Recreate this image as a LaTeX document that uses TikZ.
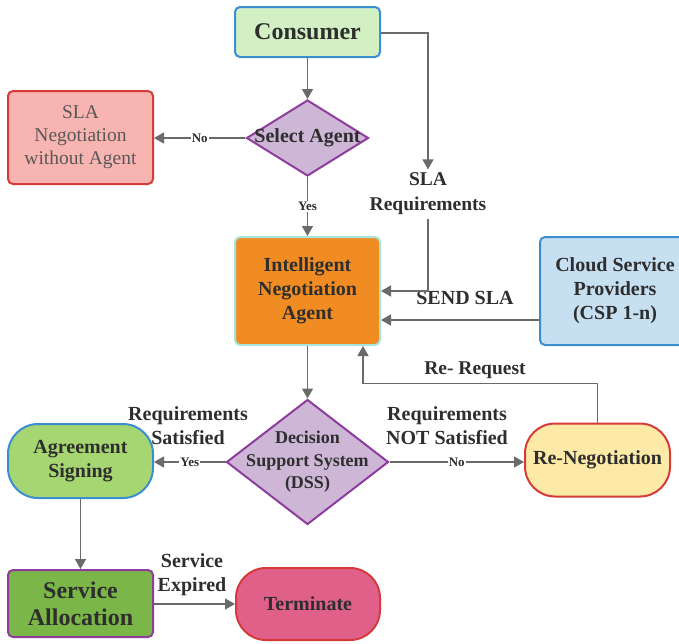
\documentclass[tikz,border=0pt]{standalone}
\usepackage{fontspec}
\setmainfont{Liberation Serif}
\usetikzlibrary{shapes.geometric,arrows.meta,calc}
\definecolor{linec}{HTML}{6A6A6A}
\definecolor{txt}{HTML}{2E2E2E}
\definecolor{bluebd}{HTML}{3A8FD0}
\definecolor{redbd}{HTML}{D63A3A}
\definecolor{purbd}{HTML}{8E3C9E}
\definecolor{purfill}{HTML}{CDB6D6}
\definecolor{consfill}{HTML}{D2F0C4}
\definecolor{negfill}{HTML}{F8B4B0}
\definecolor{inafill}{HTML}{F08C22}
\definecolor{inabd}{HTML}{A8E4DC}
\definecolor{cspfill}{HTML}{C6E0F2}
\definecolor{agrfill}{HTML}{A6D672}
\definecolor{renfill}{HTML}{FDEAA6}
\definecolor{safill}{HTML}{7AB648}
\definecolor{termfill}{HTML}{E0608A}
\tikzset{
  box/.style={draw, line width=2pt, rounded corners=5pt, align=center, text=txt, font=\bfseries, inner sep=2pt},
  stad/.style={draw, line width=2pt, rounded corners=30pt, align=center, text=txt, font=\bfseries\fontsize{20}{24}\selectfont},
  dia/.style={draw=purbd, fill=purfill, line width=2pt, diamond, inner sep=0pt},
  dtext/.style={align=center, text=txt, inner sep=0pt},
  arr/.style={draw=linec, line width=1.5pt, -{Triangle[width=11pt,length=10pt]}},
  lbl/.style={text=txt, font=\bfseries\fontsize{20}{24}\selectfont, align=center},
  small/.style={text=txt, font=\bfseries\fontsize{13}{14}\selectfont, fill=white, inner sep=1pt}
}
\begin{document}
\begin{tikzpicture}[x=1pt,y=-1pt]
\useasboundingbox (0,0) rectangle (679,643);
% nodes
\node[box, draw=bluebd, fill=consfill, minimum width=145pt, minimum height=50pt, font=\bfseries\fontsize{24}{26}\selectfont] (cons) at (307.5,32) {Consumer};
\node[dia, minimum width=122pt, minimum height=76pt,
  label={[dtext, font=\bfseries\fontsize{20}{21}\selectfont]center:Select Agent}] (sel) at (307.5,138) {};
\node[box, draw=redbd, fill=negfill, minimum width=145pt, minimum height=93pt, font=\fontsize{19.5}{23}\selectfont, text=txt!80] (nowo) at (80.5,137.5) {SLA\\Negotiation\\without Agent};
\node[lbl, font=\bfseries\fontsize{19.5}{25}\selectfont] (slareq) at (428,194) {SLA\\Requirements};
\node[box, draw=inabd, fill=inafill, minimum width=145pt, minimum height=108pt, font=\bfseries\fontsize{20}{24}\selectfont] (ina) at (307.5,291) {Intelligent\\Negotiation\\Agent};
\node[box, draw=bluebd, fill=cspfill, minimum width=150pt, minimum height=108pt, font=\bfseries\fontsize{20}{24}\selectfont] (csp) at (615,291) {Cloud Service\\Providers\\(CSP 1-n)};
\node[dia, minimum width=162pt, minimum height=125pt,
  label={[dtext, font=\bfseries\fontsize{18}{22.5}\selectfont]center:{Decision\\Support System\\(DSS)}}] (dss) at (307.5,462) {};
\node[stad, draw=bluebd, fill=agrfill, minimum width=145pt, minimum height=74pt] (agr) at (80.5,461) {Agreement\\Signing};
\node[stad, draw=redbd, fill=renfill, minimum width=145pt, minimum height=73pt] (reneg) at (597.5,460) {Re-Negotiation};
\node[box, draw=purbd, fill=safill, minimum width=145pt, minimum height=67pt, font=\bfseries\fontsize{24}{27}\selectfont] (sa) at (80.5,603.5) {Service\\Allocation};
\node[stad, draw=redbd, fill=termfill, minimum width=144pt, minimum height=72pt] (term) at (308,604) {Terminate};
% labels
\node[lbl] (reqsat) at (188,426) {Requirements\\Satisfied};
\node[lbl] (reqnot) at (447,426) {Requirements\\NOT Satisfied};
\node[lbl] (sendsla) at (465,298) {SEND SLA};
\node[lbl, font=\bfseries\fontsize{19.5}{22}\selectfont] (rereq) at (475,370) {Re- Request};
\node[lbl] (servexp) at (192,575) {Service\\Expired};
% connectors
\draw[arr] (cons) -- (sel);
\draw[arr] (sel) -- node[small]{No} (nowo.east |- sel.west);
\draw[arr] (sel) -- node[small]{Yes} (ina);
\draw[arr] (cons.east |- 0,33) -| (slareq.north);
\draw[arr] (slareq.south) |- (ina.east);
\draw[arr] (csp.west |- 0,320) -- (ina.east |- 0,320);
\draw[arr] (ina) -- (dss);
\draw[arr] (dss.west) -- node[small]{Yes} (agr.east |- dss.west);
\draw[arr] (dss.east) -- node[small]{No} (reneg.west |- dss.east);
\draw[arr] (reneg.north) -- ++(0,-39) -| ([xshift=-18pt]ina.south east);
\draw[arr] (agr) -- (sa);
\draw[arr] (sa.east |- 0,604) -- (term.west |- 0,604);
\end{tikzpicture}
\end{document}
